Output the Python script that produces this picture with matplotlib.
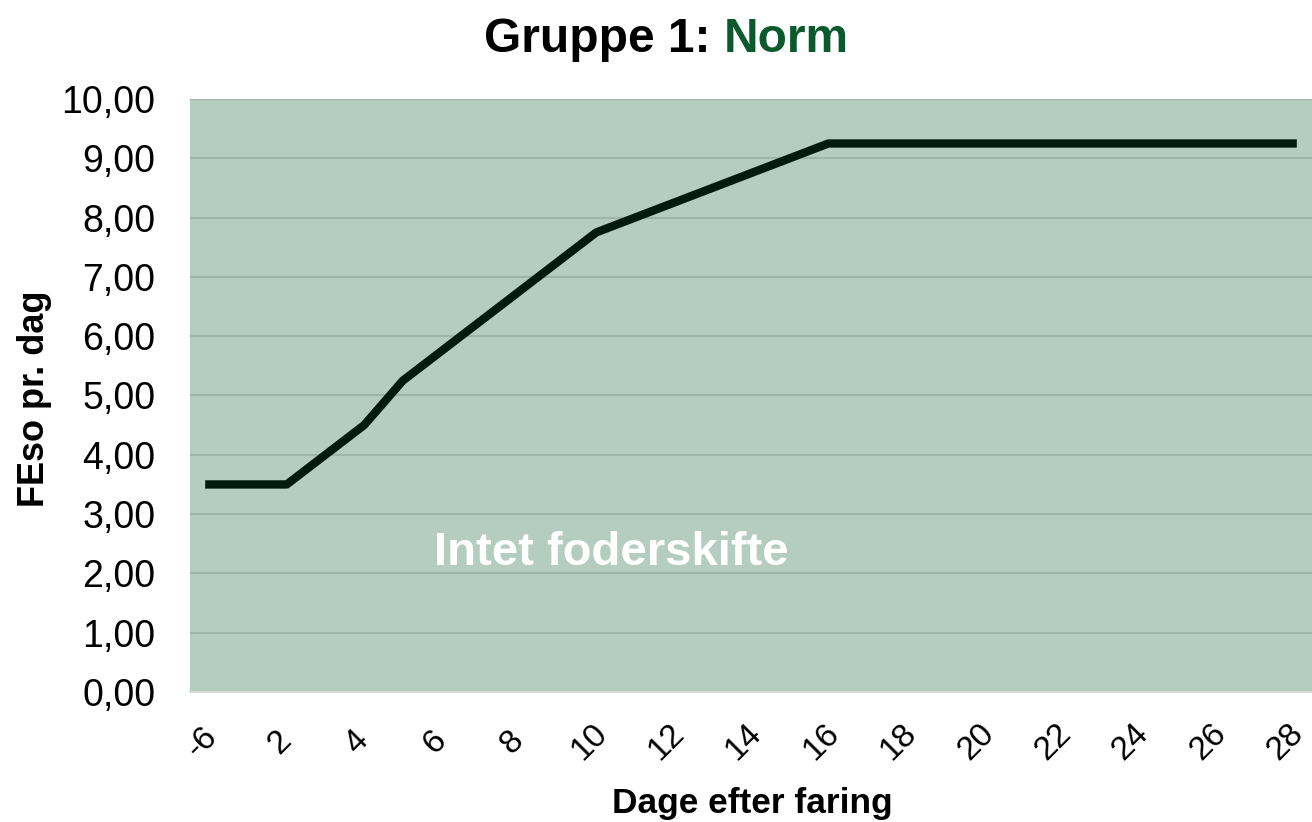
import numpy as np
import matplotlib
matplotlib.use('Agg')
from matplotlib import pyplot as plt
import matplotlib.transforms as mtransforms

plt.rcParams['font.family'] = ['Liberation Sans', 'DejaVu Sans']

# data
days = ['-6'] + [str(d) for d in range(1, 29)]
feso = [3.50, 3.50, 3.50, 4.00, 4.50, 5.25, 5.75, 6.25, 6.75, 7.25, 7.75,
        8.00, 8.25, 8.50, 8.75, 9.00, 9.25] + [9.25] * 12
yticks = np.arange(0, 11, 1)

bg = '#b5cdc0'
line_col = '#001a0d'
grid_col = '#9db5a8'

fig = plt.figure(figsize=(13.12, 8.22), dpi=100)
ax = fig.add_axes([190/1312, 1 - 692/822, 1 - 190/1312, (692 - 99)/822])
ax.set_facecolor(bg)

x = np.arange(len(days))
ax.plot(x, feso, color=line_col, lw=6, solid_capstyle='projecting', zorder=3)

ax.set_xlim(-0.5, len(days) - 0.5)
ax.set_ylim(0, 10)
ax.set_yticks(yticks)
ax.set_yticklabels([f'{v:.2f}'.replace('.', ',') for v in yticks], fontsize=27)
ax.yaxis.grid(True, color=grid_col, lw=1.5, zorder=1)
ax.set_axisbelow(True)

show = list(range(0, len(days), 2))
ax.set_xticks(x[show])
ax.set_xticklabels([days[i] for i in show], rotation=45, ha='center', va='center',
                   fontsize=24)
ax.tick_params(axis='x', length=0, pad=36)
ax.tick_params(axis='y', length=0, pad=25)

# nudge x labels a little left, like the original
shift = mtransforms.ScaledTranslation(-7/100, 0, fig.dpi_scale_trans)
for lab in ax.get_xticklabels():
    lab.set_transform(lab.get_transform() + shift)

for s in ['top', 'right', 'left']:
    ax.spines[s].set_visible(False)
ax.spines['bottom'].set_color('#d9d9d9')
ax.spines['bottom'].set_linewidth(1.5)

ax.text(10.38, 2.35, 'Intet foderskifte', color='white', fontsize=34, fontweight='bold',
        ha='center', va='center', zorder=4)

fig.text(35/1312, 1 - 399/822, 'FEso pr. dag', rotation=90, fontsize=26,
         fontweight='bold', ha='center', va='center')
fig.text(752/1312, 1 - 803/822, 'Dage efter faring', fontsize=25.4,
         fontweight='bold', ha='center', va='center')

fig.text(484/1312, 1 - 52/822, 'Gruppe 1:', fontsize=34.5, fontweight='bold',
         ha='left', va='baseline')
fig.text(724/1312, 1 - 52/822, 'Norm', fontsize=34.5, fontweight='bold',
         color='#0b5a2e', ha='left', va='baseline')

fig.savefig('out.png', dpi=100)
